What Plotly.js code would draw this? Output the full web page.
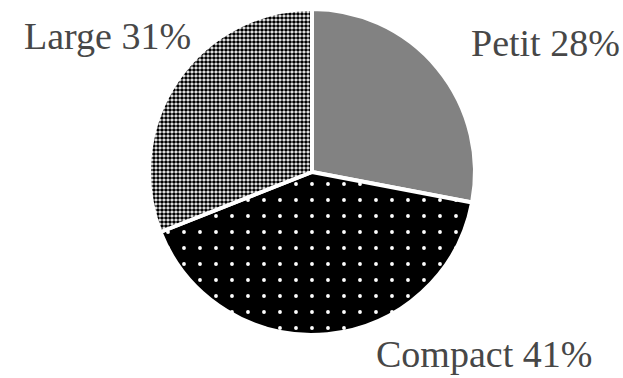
<!DOCTYPE html>
<html>
<head>
<meta charset="utf-8">
<script src="https://cdn.plot.ly/plotly-3.0.1.min.js"></script>
<style>html,body{margin:0;padding:0;background:#fff;}#chart{width:623px;height:378px;}</style>
</head>
<body>
<div id="chart"></div>
<script>
// Data
const categories = ["Petit", "Compact", "Large"];
const shares = [28, 41, 31];

// Styles (kept separate from data)
const sliceColors = ["#828282", "#000000", "#ffffff"];
const patShapes = ["", ".", "."];
const patFg = ["#828282", "#ffffff", "#000000"];
const patBg = ["#828282", "#000000", "#ffffff"];
const patSize = [8, 16, 4];
const patSolid = [0.3, 0.045, 0.66];
const labelPos = [
  {x: 0.753, y: 0.886},
  {x: 0.600, y: 0.063},
  {x: 0.035, y: 0.906}
];

const trace = {
  type: "pie",
  labels: categories,
  values: shares,
  sort: false,
  direction: "clockwise",
  rotation: 0,
  textinfo: "none",
  hoverinfo: "label+percent",
  showlegend: false,
  domain: {x: [0.2392, 0.7624], y: [0.1138, 0.9762]},
  marker: {
    colors: sliceColors,
    line: {color: "#ffffff", width: 4},
    pattern: {
      shape: patShapes,
      fgcolor: patFg,
      bgcolor: patBg,
      size: patSize,
      solidity: patSolid,
      fillmode: "replace"
    }
  }
};

const annotations = categories.map((c, i) => ({
  text: c + " " + shares[i] + "%",
  xref: "paper", yref: "paper",
  x: labelPos[i].x, y: labelPos[i].y,
  xanchor: "left", yanchor: "middle",
  showarrow: false,
  font: {family: "Liberation Serif, Times New Roman, serif", size: 38, color: "#474747"}
}));

const layout = {
  width: 623, height: 378,
  margin: {l: 0, r: 0, t: 0, b: 0},
  paper_bgcolor: "#ffffff",
  plot_bgcolor: "#ffffff",
  annotations: annotations
};

Plotly.newPlot("chart", [trace], layout, {staticPlot: true, displayModeBar: false});
</script>
</body>
</html>
